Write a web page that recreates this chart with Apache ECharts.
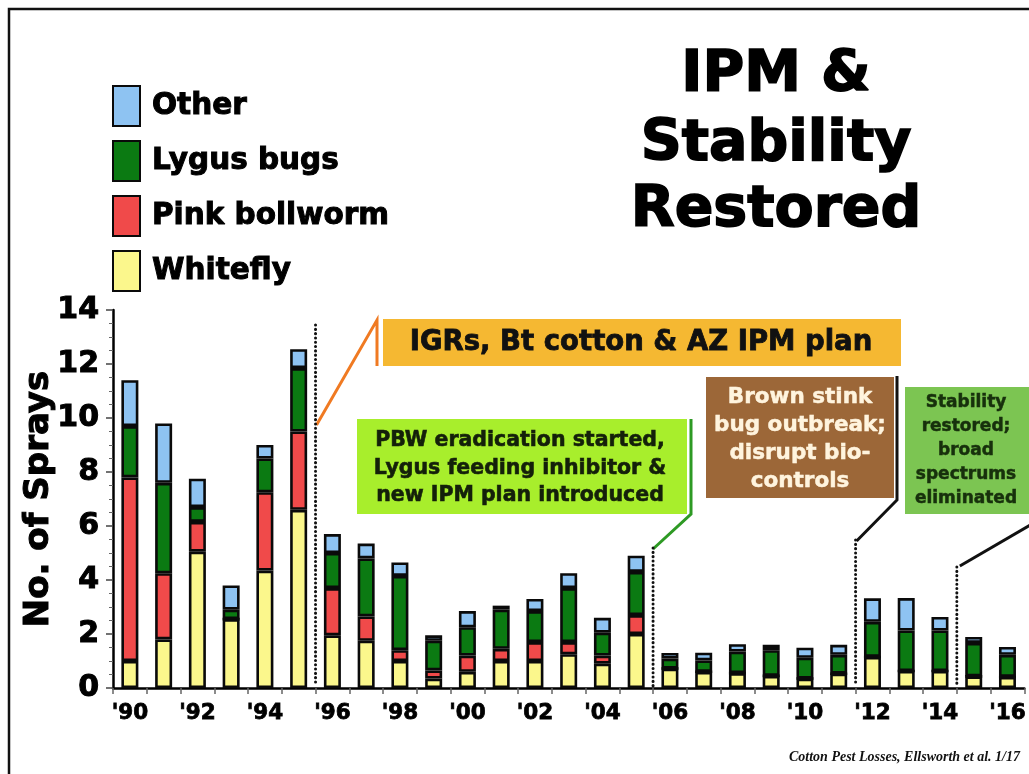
<!DOCTYPE html>
<html>
<head>
<meta charset="utf-8">
<script src="https://cdn.jsdelivr.net/npm/echarts@6/dist/echarts.min.js"></script>
<style>
html,body{margin:0;padding:0;background:#fff;}
#chart{width:1029px;height:774px;}
</style>
</head>
<body>
<div id="chart"></div>
<script>
// ---- data ----
const years = ["'90","'91","'92","'93","'94","'95","'96","'97","'98","'99","'00","'01","'02","'03","'04","'05","'06","'07","'08","'09","'10","'11","'12","'13","'14","'15","'16"];
const whitefly = [1.0,1.8,5.05,2.55,4.35,6.6,1.95,1.75,1.0,0.35,0.6,1.0,1.0,1.25,0.9,2.0,0.72,0.6,0.55,0.45,0.35,0.53,1.15,0.63,0.63,0.43,0.41];
const pinkBollworm = [6.8,2.45,1.1,0,2.9,2.9,1.75,0.9,0.4,0.3,0.6,0.45,0.7,0.45,0.3,0.7,0,0,0,0,0,0,0,0,0,0,0];
const lygusBugs = [1.9,3.35,0.55,0.35,1.25,2.35,1.3,2.15,2.75,1.1,1.05,1.45,1.15,2.0,0.85,1.6,0.37,0.42,0.8,0.95,0.77,0.7,1.3,1.5,1.5,1.24,0.82];
const other = [1.7,2.2,1.05,0.9,0.5,0.7,0.7,0.55,0.5,0.2,0.6,0.15,0.45,0.55,0.55,0.6,0.21,0.29,0.27,0.2,0.37,0.37,0.87,1.2,0.5,0.22,0.29];
const yTicks = [0,2,4,6,8,10,12,14];
const titleLines = ["IPM &","Stability","Restored"];
// dotted markers sit at the boundary before these categories
const markerYears = ["'96","'06","'12","'15"];

const FONT = '"DejaVu Sans", Verdana, sans-serif';
const chart = echarts.init(document.getElementById('chart'), null, {renderer:'canvas'});

function barSeries(name, data, color){
  return {
    name, type:'bar', stack:'sprays', data, barWidth:17,
    itemStyle:{color, borderColor:'#0a0a0a', borderWidth:2.6},
    emphasis:{disabled:true}
  };
}

const option = {
  backgroundColor:'#fff',
  animation:false,
  grid:{left:113, top:310, width:918, height:378},
  legend:{
    orient:'vertical', left:112, top:85, padding:0,
    data:['Other','Lygus bugs','Pink bollworm','Whitefly'],
    icon:'rect', itemWidth:27, itemHeight:40, itemGap:13,
    selectedMode:false,
    textStyle:{fontFamily:FONT, fontWeight:'bold', fontSize:29.5, color:'#000', padding:[0,0,0,7],
      textBorderColor:'#000', textBorderWidth:1}
  },
  xAxis:{
    type:'category', data:years, boundaryGap:true,
    axisLine:{lineStyle:{color:'#000', width:2.5}},
    axisTick:{show:true, interval:0, length:6, lineStyle:{color:'#666', width:1.5}},
    axisLabel:{interval:1, fontFamily:FONT, fontWeight:'bold', fontSize:21.5, color:'#000', margin:14,
      textBorderColor:'#000', textBorderWidth:0.8}
  },
  yAxis:{
    type:'value', min:0, max:14, interval:2,
    name:'No. of Sprays', nameLocation:'middle', nameRotate:90, nameGap:57, nameMoveOverlap:false,
    nameTextStyle:{fontFamily:FONT, fontWeight:'bold', fontSize:34, color:'#000', textBorderColor:'#000', textBorderWidth:1},
    axisLine:{show:true, lineStyle:{color:'#000', width:2.5}},
    axisTick:{show:true, length:7, lineStyle:{color:'#444', width:1.5}},
    minorTick:{show:true, splitNumber:4, length:4, lineStyle:{color:'#666', width:1}},
    splitLine:{show:false},
    axisLabel:{fontFamily:FONT, fontWeight:'bold', fontSize:30, color:'#000', margin:14,
      textBorderColor:'#000', textBorderWidth:1,
      formatter:(v)=> yTicks.includes(v) ? String(v) : ''}
  },
  series:[
    barSeries('Whitefly', whitefly, '#FBF78C'),
    barSeries('Pink bollworm', pinkBollworm, '#F04A4A'),
    barSeries('Lygus bugs', lygusBugs, '#0B7A12'),
    barSeries('Other', other, '#8EC3F2')
  ]
};
chart.setOption(option);

// boundary x between a category and the one before it
function boundaryX(cat){
  const i = years.indexOf(cat);
  const a = chart.convertToPixel({xAxisIndex:0}, years[i-1]);
  const b = chart.convertToPixel({xAxisIndex:0}, years[i]);
  return (a+b)/2;
}
const y0 = chart.convertToPixel({yAxisIndex:0}, 0);
const bx = markerYears.map(boundaryX);
const dotTops = [325, 548, 540, 567];

function txt(x, y, text, size, fill, extra){
  return {type:'text', x, y, style:{text, font:'bold ' + size + 'px ' + FONT, fill,
    align:'center', verticalAlign:'middle', stroke:fill, lineWidth:(extra||0)}};
}

const g = [];
// frame
g.push({type:'rect', shape:{x:9, y:9, width:1200, height:900}, style:{fill:null, stroke:'#111', lineWidth:2.5}, silent:true});
// title
titleLines.forEach((t,k)=>{
  g.push(txt(776, [76,145,211][k], t, 57, '#000', 1.6));
});
// dotted markers
bx.forEach((x,k)=>{
  g.push({type:'line', shape:{x1:x, y1:dotTops[k], x2:x, y2:y0-2}, style:{stroke:'#111', lineWidth:3, lineDash:[0.1,4.2], lineCap:'round'}, z:10});
});
// orange box
g.push({type:'rect', shape:{x:383, y:319, width:518, height:47}, style:{fill:'#F5B832'}});
g.push(txt(641, 343, 'IGRs, Bt cotton & AZ IPM plan', 27.5, '#111', 0.8));
g.push({type:'polyline', shape:{points:[[377,366],[377,320],[bx[0]+1,425]]}, style:{stroke:'#F07A22', lineWidth:3, fill:null}});
// lime box
g.push({type:'rect', shape:{x:357, y:419, width:330, height:95}, style:{fill:'#A8EE2C'}});
['PBW eradication started,','Lygus feeding inhibitor &','new IPM plan introduced'].forEach((t,k)=>{
  g.push(txt(520, 441+k*27.5, t, 20.5, '#14200a', 0.6));
});
g.push({type:'polyline', shape:{points:[[691,419],[691,514],[bx[1],549]]}, style:{stroke:'#2E9A24', lineWidth:3, fill:null}});
// brown box
g.push({type:'rect', shape:{x:706, y:377, width:188, height:121}, style:{fill:'#9C6738'}});
['Brown stink','bug outbreak;','disrupt bio-','controls'].forEach((t,k)=>{
  g.push(txt(800, 397+k*28.3, t, 21.5, '#FFF4DE', 0.5));
});
g.push({type:'polyline', shape:{points:[[897,376],[897,500],[bx[2]+1,541]]}, style:{stroke:'#111', lineWidth:3, fill:null}});
// stability box
g.push({type:'rect', shape:{x:905, y:387, width:130, height:127}, style:{fill:'#7CC552'}});
['Stability','restored;','broad','spectrums','eliminated'].forEach((t,k)=>{
  g.push(txt(966, 403+k*23.8, t, 17, '#17300c', 0.5));
});
g.push({type:'polyline', shape:{points:[[1032,524],[bx[3]+3,566]]}, style:{stroke:'#111', lineWidth:3, fill:null}});
// footer
g.push({type:'text', x:1020, y:757, style:{text:'Cotton Pest Losses, Ellsworth et al. 1/17', font:'italic bold 14px "Liberation Serif", serif', fill:'#111', align:'right', verticalAlign:'middle'}});

chart.setOption({graphic:{elements:g}});
</script>
</body>
</html>
